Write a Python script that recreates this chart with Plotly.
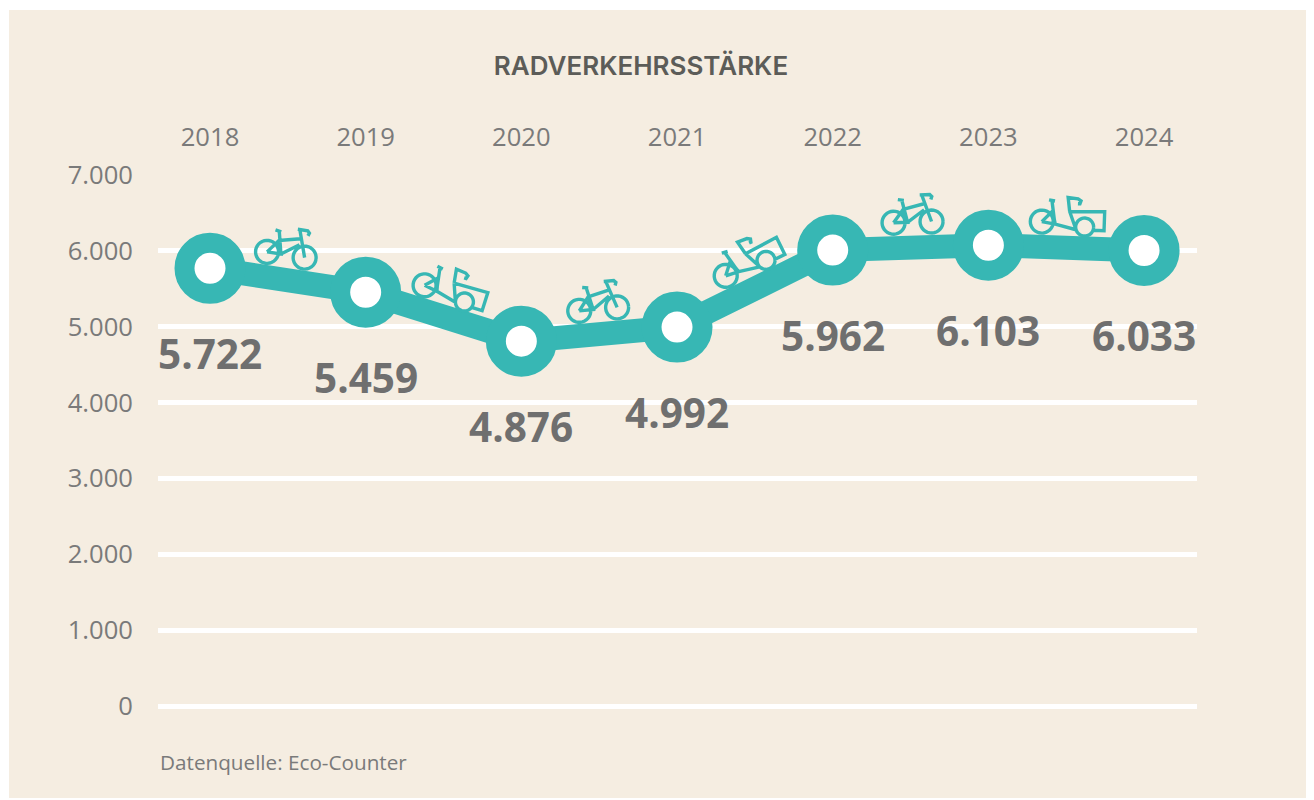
import math
import plotly.graph_objects as go

years = ["2018", "2019", "2020", "2021", "2022", "2023", "2024"]
plotted = [5770, 5455, 4810, 4995, 6010, 6075, 6005]
labels = ["5.722", "5.459", "4.876", "4.992", "5.962", "6.103", "6.033"]
y_ticks = [0, 1000, 2000, 3000, 4000, 5000, 6000, 7000]
y_text = ["0", "1.000", "2.000", "3.000", "4.000", "5.000", "6.000", "7.000"]
icons = ["bike", "cargo", "bike", "cargo", "bike", "cargo"]

# the page adds an 8 px body margin, so the canvas starts at (8, 8)
PAGE = 8
W, H = 1314 - PAGE, 800 - PAGE
L, R, T, B = 158 - PAGE, 1197 - PAGE, 175 - PAGE, 706 - PAGE
XMIN, XMAX = -0.334, 6.34
BG, TEAL, GREY = "#F5EDE1", "#37B7B4", "#7A7A7A"
FONT = "Open Sans"
PX_X = (R - L) / (XMAX - XMIN)
PX_Y = (B - T) / 7000


def circle(cx, cy, r, n=32):
    return [(cx + r * math.cos(2 * math.pi * i / n), cy + r * math.sin(2 * math.pi * i / n)) for i in range(n + 1)]


# icon outlines in local pixels, y pointing down, origin midway between the wheels
BIKE = [
    circle(-19, 0, 11.5), circle(19, 0, 11.5),
    [(-19, 0), (-5, 0), (-9, -13), (-19, 0)],
    [(-5, 0), (12, -12)],
    [(-9, -13), (12, -18)],
    [(19, 0), (10, -27)],
    [(-5, 0), (-10, -22)],
    [(-14, -23), (-8, -22)],
    [(8, -27), (18, -27), (20, -25), (19, -22)],
]
CARGO = [
    circle(-21.5, -2, 11.5), circle(21.5, 2, 9),
    [(-21.5, -2), (-8, 0), (-11, -13), (-21.5, -2)],
    [(-8, 0), (13, 5)],
    [(-12, -23), (-9, -4)],
    [(-15, -24), (-9, -23)],
    [(6, -13), (41, -14), (41, 5), (29, 5)],
    [(6, -13), (13, 5)],
    [(6, -13), (4, -27), (14, -26), (17, -24), (16, -21), (14, -21)],
]
ICON_SHAPES = {"bike": BIKE, "cargo": CARGO}
ICON_OFFSET = [(-2, -25.5), (1, -23), (-1, -25), (-9, -20.5), (2, -25.5), (-3, -23.5)]


def icon_path(kind, angle, ox, oy):
    c, s = math.cos(angle), math.sin(angle)
    parts = []
    for stroke in ICON_SHAPES[kind]:
        pts = [(ox + x * c - y * s, -(oy + x * s + y * c)) for x, y in stroke]
        parts.append("M" + " L".join(f"{x:.2f},{y:.2f}" for x, y in pts))
    return " ".join(parts)


fig = go.Figure()
fig.add_trace(go.Scatter(
    x=years, y=plotted, mode="lines+markers", cliponaxis=False, showlegend=False,
    line=dict(color=TEAL, width=24),
    marker=dict(size=51, color="#FFFFFF", line=dict(color=TEAL, width=20)),
))

shapes = [dict(
    type="rect", xref="paper", yref="paper", layer="below",
    x0=(9 - PAGE - L) / (R - L), x1=(W - L) / (R - L),
    y0=(B - (798 - PAGE)) / (B - T), y1=(B - (10 - PAGE)) / (B - T),
    fillcolor=BG, line=dict(width=0),
)]
for i, kind in enumerate(icons):
    a, b = plotted[i], plotted[i + 1]
    angle = math.atan2((a - b) * PX_Y, PX_X)
    ox, oy = ICON_OFFSET[i]
    shapes.append(dict(
        type="path", xref="x", yref="y", xsizemode="pixel", ysizemode="pixel",
        xanchor=i + 0.5, yanchor=(a + b) / 2,
        path=icon_path(kind, angle, ox, oy),
        line=dict(color=TEAL, width=3.4), fillcolor="rgba(0,0,0,0)",
    ))

annotations = [
    dict(x=i, y=v, xref="x", yref="y", text=t, showarrow=False, xshift=0, yshift=-85,
         font=dict(family=FONT, size=40.5, color="#6F6F6F", weight=700))
    for i, (v, t) in enumerate(zip(plotted, labels))
]
annotations.append(dict(
    xref="paper", yref="paper", x=(158 - PAGE - L) / (R - L), y=(B - (762 - PAGE)) / (B - T),
    xanchor="left", yanchor="middle", showarrow=False, text="Datenquelle: Eco-Counter",
    font=dict(family=FONT, size=20.7, color=GREY),
))

fig.update_layout(
    width=W, height=H, margin=dict(l=L, r=W - R, t=T, b=H - B, autoexpand=False),
    paper_bgcolor="#FFFFFF", plot_bgcolor="rgba(0,0,0,0)", showlegend=False,
    title=dict(text="RADVERKEHRSSTÄRKE", x=(641 - PAGE) / W, y=1 - (66 - PAGE) / H,
               xanchor="center", yanchor="middle",
               font=dict(family="Inter", size=26, color="#5C5C58", weight=600)),
    shapes=shapes, annotations=annotations,
    xaxis=dict(type="category", side="top", range=[XMIN, XMAX], showgrid=False, zeroline=False,
               showline=False, ticks="", ticklabelstandoff=23,
               tickfont=dict(family=FONT, size=25.6, color=GREY)),
    yaxis=dict(range=[0, 7000], tickvals=y_ticks, ticktext=y_text, showgrid=True, gridcolor="#FFFFFF",
               gridwidth=5, zeroline=True, zerolinecolor="#FFFFFF", zerolinewidth=5, showline=False,
               ticks="", ticklabelstandoff=24, tickfont=dict(family=FONT, size=25.6, color=GREY)),
)
fig.write_html("out.html")
